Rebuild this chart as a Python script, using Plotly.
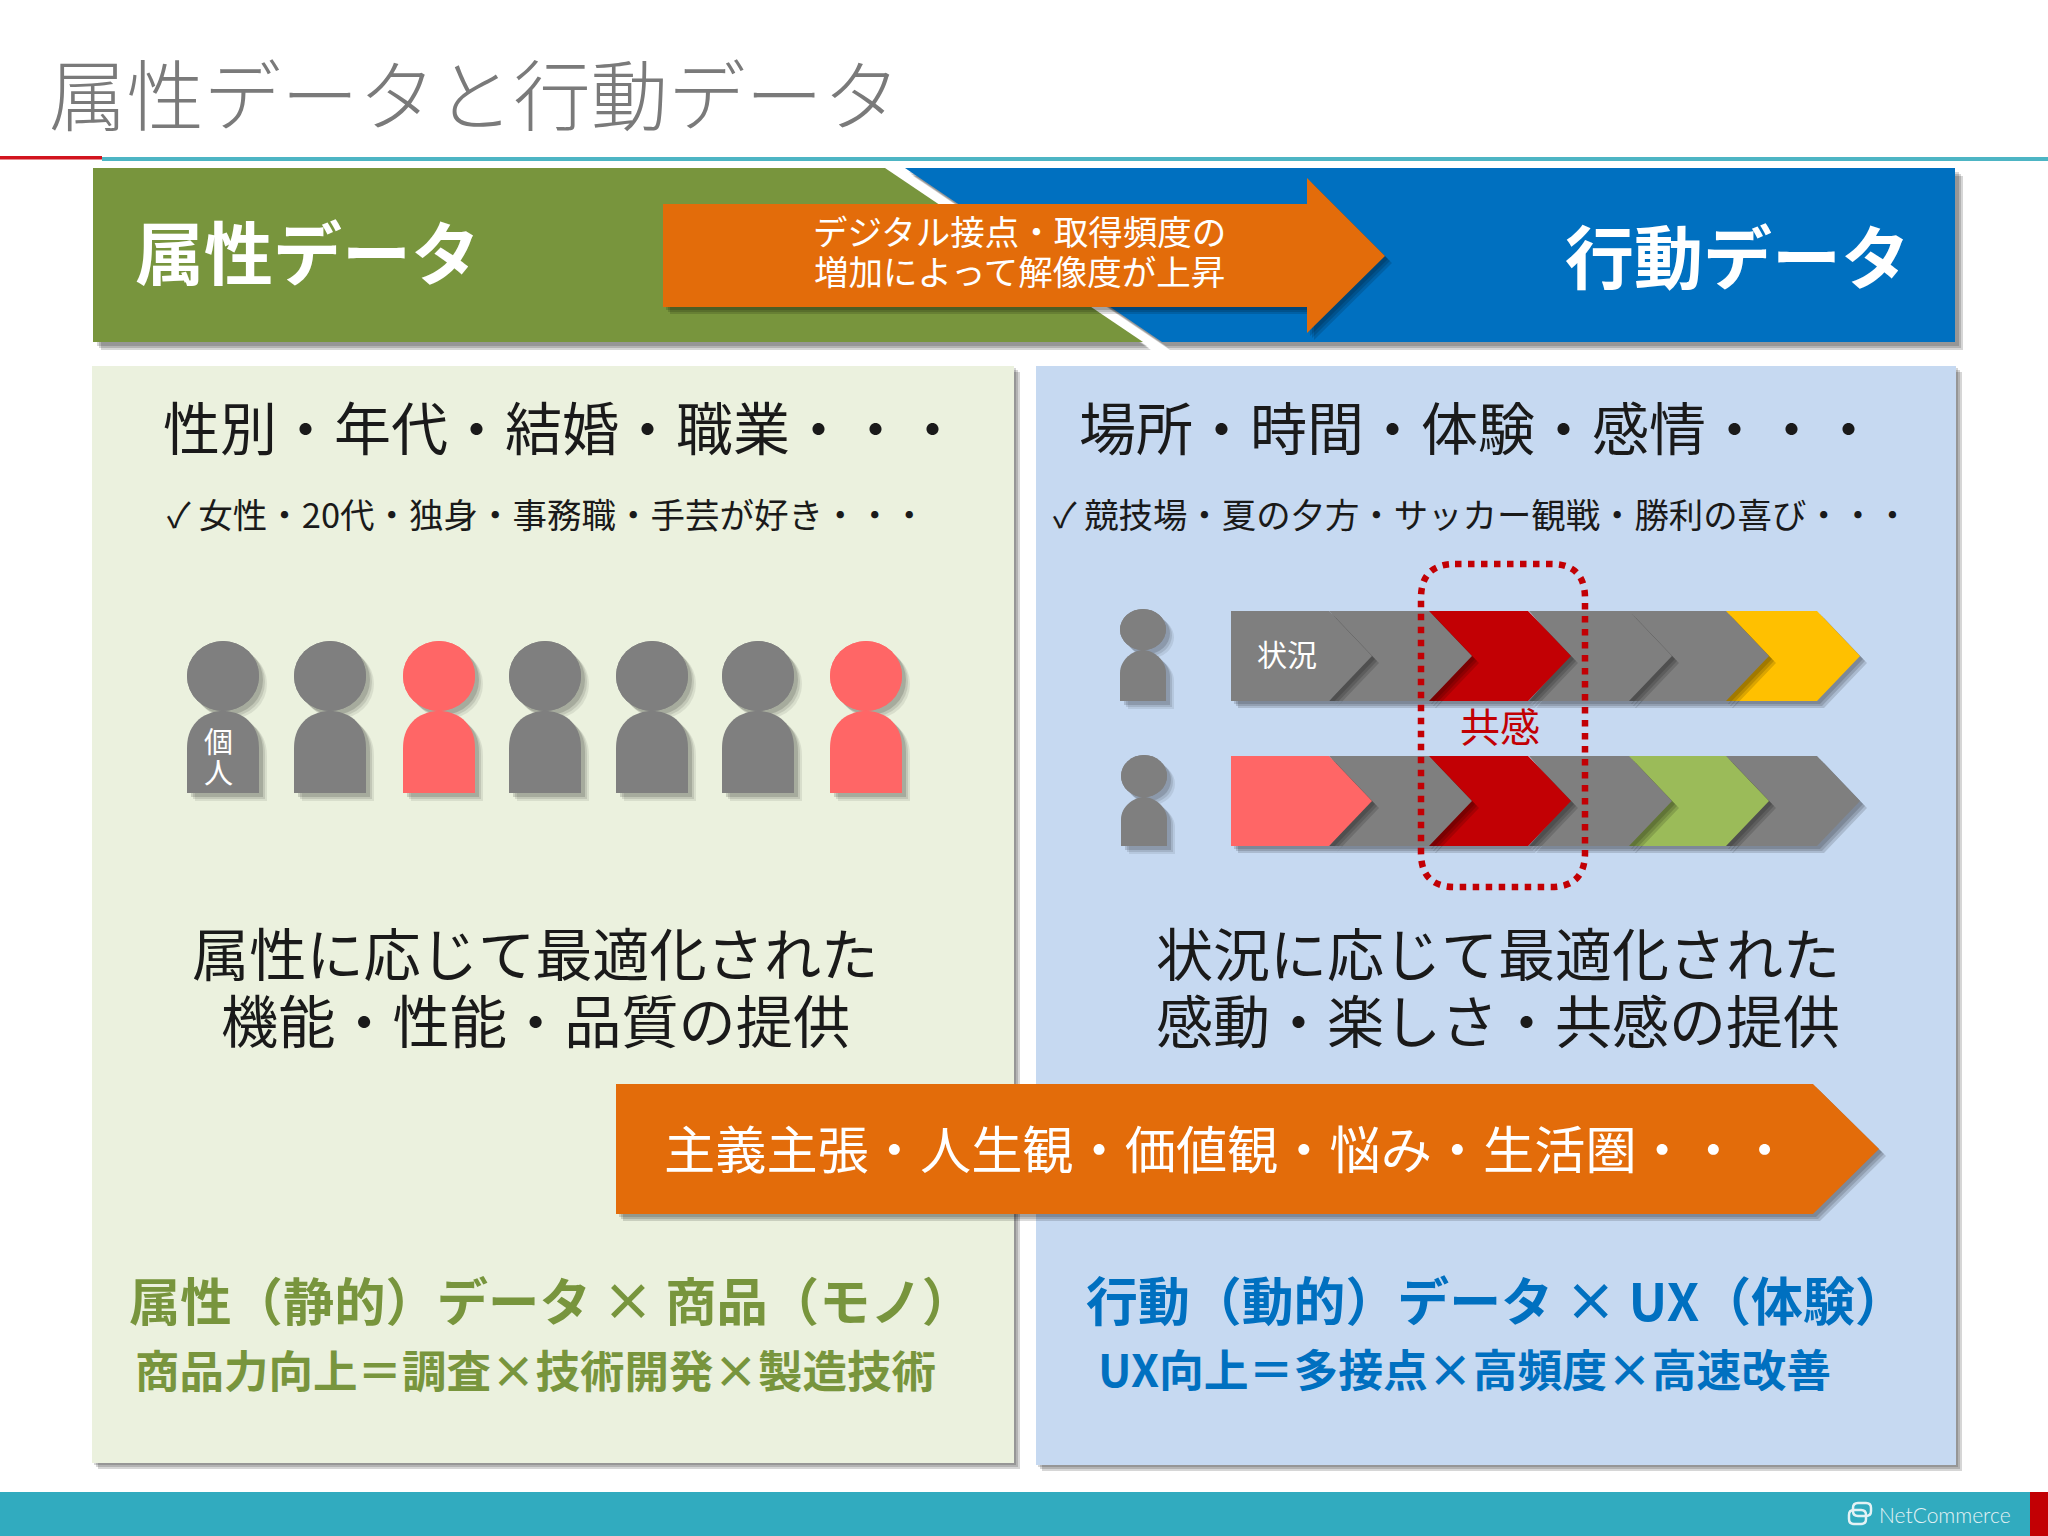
import plotly.graph_objects as go

# --- slide text ---
title_text = "属性データと行動データ"
band_labels = ["属性データ", "行動データ"]
arrow_lines = ["デジタル接点・取得頻度の", "増加によって解像度が上昇"]
panel_heads = ["性別・年代・結婚・職業・・・", "場所・時間・体験・感情・・・"]
panel_subs = ["✓ 女性・20代・独身・事務職・手芸が好き・・・", "✓ 競技場・夏の夕方・サッカー観戦・勝利の喜び・・・"]
left_lines = ["属性に応じて最適化された", "機能・性能・品質の提供"]
right_lines = ["状況に応じて最適化された", "感動・楽しさ・共感の提供"]
wide_arrow_text = "主義主張・人生観・価値観・悩み・生活圏・・・"
left_footer = ["属性（静的）データ × 商品（モノ）", "商品力向上＝調査×技術開発×製造技術"]
right_footer = ["行動（動的）データ × UX（体験）", "UX向上＝多接点×高頻度×高速改善"]
person_label = ["個", "人"]
chevron_label = "状況"
overlap_label = "共感"
logo_text = "NetCommerce"

# --- which item in each row is highlighted ---
people = ["gray", "gray", "pink", "gray", "gray", "gray", "pink"]
journey_a = ["gray", "gray", "red", "gray", "gray", "gold"]
journey_b = ["pink", "gray", "red", "gray", "green", "gray"]

COLORS = {
    "gray": "#7F7F7F",
    "pink": "#FF6666",
    "red": "#C20004",
    "gold": "#FFC000",
    "green": "#9BBB59",
    "olive": "#78953D",
    "blue": "#0070C0",
    "orange": "#E36C0A",
    "teal": "#31ABBF",
    "left_bg": "#EBF1DE",
    "right_bg": "#C6D9F1",
}
FONT = "Noto Sans CJK JP"
LOGO_INK = "#E4F2F5"

shapes = []
annotations = []


def path_of(points):
    return "M " + " L ".join(f"{x},{y}" for x, y in points) + " Z"


def add_path(path, color, opacity=1.0):
    shapes.append(dict(type="path", path=path, xref="x", yref="y", fillcolor=color,
                       opacity=opacity, line=dict(width=0)))


def add_poly(points, color, shadow=(4, 0.16, "#000000")):
    # no blur in svg shapes, so stack a few offset copies for the soft shadow
    if shadow:
        reach, alpha, tint = shadow
        for step in (reach + 4, reach + 2, reach):
            add_path(path_of([(x + step, y + step) for x, y in points]), tint, alpha)
    add_path(path_of(points), color)


def add_text(text, x, y, size, color="#1A1A1A", bold=False, anchor="center", family=FONT, weight=None):
    font = dict(family=family, size=size, color=color)
    if weight:
        font["weight"] = weight
    annotations.append(dict(
        text=f"<b>{text}</b>" if bold else text, x=x, y=y, xref="x", yref="y",
        showarrow=False, xanchor=anchor, yanchor="middle", font=font,
    ))


def ellipse(cx, cy, rx, ry, color, shadow=True):
    if shadow:
        for step, alpha in ((8, 0.08), (6, 0.1), (4, 0.14)):
            shapes.append(dict(type="circle", xref="x", yref="y", fillcolor="#000000", opacity=alpha,
                               x0=cx - rx + step, x1=cx + rx + step, y0=cy - ry + step, y1=cy + ry + step,
                               line=dict(width=0)))
    shapes.append(dict(type="circle", xref="x", yref="y", fillcolor=color,
                       x0=cx - rx, x1=cx + rx, y0=cy - ry, y1=cy + ry, line=dict(width=0)))


def body_path(cx, top, bottom, half, dx=0):
    shoulder = top + (bottom - top) * 0.45
    cx += dx
    top += dx
    bottom += dx
    shoulder += dx
    return (f"M {cx - half},{bottom} L {cx - half},{shoulder} "
            f"C {cx - half},{top + 10} {cx - half * 0.45},{top} {cx},{top} "
            f"C {cx + half * 0.45},{top} {cx + half},{top + 10} {cx + half},{shoulder} "
            f"L {cx + half},{bottom} Z")


def person(cx, head_top, head_bottom, bottom, half, color):
    mid = (head_top + head_bottom) / 2
    ellipse(cx, mid, half, (head_bottom - head_top) / 2, color)
    for step, alpha in ((8, 0.08), (6, 0.1), (4, 0.14)):
        add_path(body_path(cx, head_bottom, bottom, half, step), "#000000", alpha)
    ellipse(cx, mid, half, (head_bottom - head_top) / 2, color, shadow=False)
    add_path(body_path(cx, head_bottom, bottom, half), color)


def round_rect(x0, x1, y0, y1, r):
    return (f"M {x0 + r},{y0} L {x1 - r},{y0} Q {x1},{y0} {x1},{y0 + r} L {x1},{y1 - r} "
            f"Q {x1},{y1} {x1 - r},{y1} L {x0 + r},{y1} Q {x0},{y1} {x0},{y1 - r} "
            f"L {x0},{y0 + r} Q {x0},{y0} {x0 + r},{y0} Z")


# --- header ---
add_text(title_text, 47, 91, 77.4, color="#7A7A7A", anchor="left", weight=300)
shapes.append(dict(type="rect", xref="x", yref="y", x0=102, x1=2048, y0=157, y1=161,
                   fillcolor="#4DB5C4", line=dict(width=0)))
shapes.append(dict(type="rect", xref="x", yref="y", x0=0, x1=102, y0=156, y1=159.5,
                   fillcolor="#D2141E", line=dict(width=0)))

# --- band ---
add_poly([(905, 168), (1955, 168), (1955, 342), (1162, 342)], COLORS["blue"])
add_poly([(93, 168), (885, 168), (1143, 342), (93, 342)], COLORS["olive"])
add_poly([(663, 204), (1307, 204), (1307, 178), (1385, 256), (1307, 333), (1307, 307), (663, 307)],
         COLORS["orange"], shadow=(3, 0.14, "#000000"))
add_text(band_labels[0], 133, 250, 69, color="white", bold=True, anchor="left")
add_text(band_labels[1], 1912, 254, 69, color="white", bold=True, anchor="right")
add_text(arrow_lines[0], 1019, 230, 34.5, color="white")
add_text(arrow_lines[1], 1019, 270, 34.5, color="white")

# --- panels ---
add_poly([(92, 366), (1014, 366), (1014, 1463), (92, 1463)], COLORS["left_bg"], shadow=(2, 0.16, "#000000"))
add_poly([(1036, 366), (1956, 366), (1956, 1465), (1036, 1465)], COLORS["right_bg"], shadow=(2, 0.16, "#000000"))

add_text(panel_heads[0], 161, 425, 57, anchor="left")
add_text(panel_heads[1], 1077, 425, 57, anchor="left")
add_text(panel_subs[0], 165, 513, 34.5, anchor="left")
add_text(panel_subs[1], 1051, 513, 34.4, anchor="left")

# --- people row ---
for cx, tone in zip([223, 330, 439, 545, 652, 758, 866], people):
    person(cx, 641, 711, 793, 36, COLORS[tone])
add_text(person_label[0], 218, 740, 29, color="white")
add_text(person_label[1], 218, 771, 29, color="white")

# --- journeys ---
person(1143, 609, 650, 701, 23, COLORS["gray"])
person(1144, 755, 797, 846, 23, COLORS["gray"])

starts = [1231, 1331, 1430, 1531, 1630, 1727]
ends = [1329, 1429, 1528, 1629, 1726, 1817]
tip = 43
for top, bottom, row in ((611, 701, journey_a), (756, 846, journey_b)):
    mid = (top + bottom) / 2
    # right to left, each tip sits on top of the next notch
    for i in reversed(range(len(row))):
        s, e = starts[i], ends[i]
        pts = [(s - 2 if i else s, top), (e, top), (e + tip, mid), (e, bottom), (s - 2 if i else s, bottom)]
        if i > 0:
            pts.append((s + tip - 5, mid))
        add_poly(pts, COLORS[row[i]], shadow=(3, 0.14, "#000000"))
add_text(chevron_label, 1287, 653, 30, color="white")
add_text(overlap_label, 1500, 725, 40, color=COLORS["red"])

# dashed frame around the shared moment
shapes.append(dict(
    type="path", xref="x", yref="y",
    path=round_rect(1421, 1585, 564, 887, 34),
    line=dict(color=COLORS["red"], width=6.5, dash="6.5px,6.5px"),
))

add_text(left_lines[0], 535, 951, 57.2)
add_text(left_lines[1], 535, 1018, 57.2)
add_text(right_lines[0], 1498, 951, 57)
add_text(right_lines[1], 1498, 1018, 57)

# --- wide arrow ---
add_poly([(616, 1084), (1813, 1084), (1879, 1149), (1813, 1214), (616, 1214)], COLORS["orange"],
         shadow=(3, 0.14, "#000000"))
add_text(wide_arrow_text, 662, 1147, 51.2, color="white", anchor="left")

# --- bottom formulas ---
add_text(left_footer[0], 127, 1298, 51.3, color=COLORS["olive"], bold=True, anchor="left")
add_text(left_footer[1], 133, 1368, 44.5, color=COLORS["olive"], bold=True, anchor="left")
add_text(right_footer[0], 1084, 1298, 51.9, color=COLORS["blue"], bold=True, anchor="left")
add_text(right_footer[1], 1096, 1367, 44.8, color=COLORS["blue"], bold=True, anchor="left")

# --- footer bar ---
shapes.append(dict(type="rect", xref="x", yref="y", x0=0, x1=2048, y0=1492, y1=1536,
                   fillcolor=COLORS["teal"], line=dict(width=0)))
shapes.append(dict(type="rect", xref="x", yref="y", x0=2030, x1=2048, y0=1492, y1=1536,
                   fillcolor=COLORS["red"], line=dict(width=0)))
for box in ((1853, 1871, 1503, 1516), (1849, 1866, 1510, 1524)):
    shapes.append(dict(type="path", xref="x", yref="y", path=round_rect(*box, 5),
                       line=dict(color=LOGO_INK, width=2.5)))
add_text(logo_text, 2013, 1514, 21, color=LOGO_INK, anchor="right", family="Lato", weight=300)

fig = go.Figure()
fig.update_layout(
    width=2048,
    height=1536,
    margin=dict(l=0, r=0, t=0, b=0),
    paper_bgcolor="white",
    plot_bgcolor="white",
    showlegend=False,
    shapes=shapes,
    annotations=annotations,
    xaxis=dict(range=[0, 2048], visible=False, fixedrange=True),
    yaxis=dict(range=[1536, 0], visible=False, fixedrange=True),
)
fig.write_html("out.html", config=dict(displayModeBar=False),
               post_script="document.body.style.margin = '0';")
